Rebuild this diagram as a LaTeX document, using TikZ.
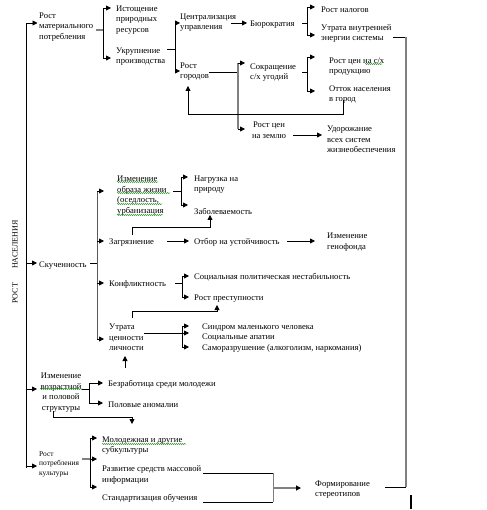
\documentclass[tikz,border=0pt]{standalone}
\usepackage{fontspec}
\setmainfont{Liberation Serif}
\usetikzlibrary{arrows.meta,decorations.pathmorphing}
\newcommand\fsz{\fontsize{8.6}{10.5}\selectfont}
\newcommand\fsm{\fontsize{7.4}{9.5}\selectfont}
\definecolor{lgr}{RGB}{128,128,128}
\definecolor{spell}{RGB}{60,160,60}
\tikzset{
  ln/.style={line width=0.8pt, black},
  gl/.style={line width=1.4pt, lgr},
  arr/.style={ln, -{Triangle[length=5pt,width=5pt]}},
  garr/.style={gl, -{Triangle[length=5pt,width=5pt,color=black]}},
  txt/.style={anchor=west, align=left, inner sep=0pt, font=\fsz, yshift=-1.5pt},
  ctxt/.style={anchor=center, align=center, inner sep=0pt, font=\fsz, yshift=-1.5pt},
  wavy/.style={spell, line width=0.5pt, decorate, decoration={snake, amplitude=0.6pt, segment length=2pt}},
}
\begin{document}
\begin{tikzpicture}[x=1pt,y=-1pt]
\useasboundingbox (0,0) rectangle (486,510);
% ---------- nodes ----------
\node[font=\fontsize{8}{9}\selectfont, rotate=90, inner sep=0pt] (lbl) at (15,262) {РОСТ\hspace{14pt}НАСЕЛЕНИЯ};
\node[txt] (rmp) at (39,25.5) {Рост\\материального\\потребления};
\node[txt] (ist) at (116,18.5) {Истощение\\природных\\ресурсов};
\node[txt] (ukr) at (116,55) {Укрупнение\\производства};
\node[txt] (cen) at (180,21) {Централизация\\управления};
\node[txt] (rg) at (180,70) {Рост\\городов};
\node[txt] (bur) at (250,23) {Бюрократия};
\node[txt] (rn) at (321,8) {Рост налогов};
\node[txt] (uv) at (321,32) {Утрата внутренней\\энергии системы};
\node[txt] (sok) at (250,71) {Сокращение\\с/х угодий};
\node[txt] (rcp) at (329,65) {Рост цен на с/х\\продукцию};
\node[txt] (ott) at (329,93) {Отток населения\\в город};
\node[ctxt] (rcz) at (269,128.5) {Рост цен\\на землю};
\node[txt] (udo) at (327,138) {Удорожание\\всех систем\\жизнеобеспечения};
\node[txt] (sku) at (39,264) {Скученность};
\node[txt] (izo) at (117,194) {Изменение\\образа жизни\\(оседлость,\\урбанизация};
\node[txt] (nag) at (194,183) {Нагрузка на\\природу};
\node[txt] (zab) at (194,210) {Заболеваемость};
\node[txt] (zag) at (109,241) {Загрязнение};
\node[txt] (otb) at (194,241) {Отбор на устойчивость};
\node[txt] (gen) at (327,240.5) {Изменение\\генофонда};
\node[txt] (kon) at (109,283) {Конфликтность};
\node[txt] (spn) at (194,276) {Социальная политическая нестабильность};
\node[txt] (rp) at (194,297) {Рост преступности};
\node[txt] (ucl) at (109,336) {Утрата\\ценности\\личности};
\node[txt] (smc) at (202,326) {Синдром маленького человека};
\node[txt] (sa) at (202,336) {Социальные апатии};
\node[txt] (sr) at (202,347) {Саморазрушение (алкоголизм, наркомания)};
\node[ctxt] (ivs) at (61,391) {Изменение\\возрастной\\и половой\\структуры};
\node[txt] (bez) at (108,383) {Безработица среди молодежи};
\node[txt] (pol) at (108,403) {Половые аномалии};
\node[txt, font=\fsm] (rpk) at (39,462.5) {Рост\\потребления\\культуры};
\node[txt] (mol) at (102,444) {Молодежная и другие\\субкультуры};
\node[txt] (razv) at (102,473.5) {Развитие средств массовой\\информации};
\node[txt] (std) at (102,497) {Стандартизация обучения};
\node[txt] (fst) at (315,488) {Формирование\\стереотипов};
% ---------- spelling marks ----------
\draw[wavy] (117,182) -- (158,182);
\draw[wavy] (117,193) -- (170,193);
\draw[wavy] (117,204) -- (162,204);
\draw[wavy] (117,215) -- (163,215);
\draw[wavy] (40,389) -- (83,389);
\draw[wavy] (102,444) -- (186,444);
\draw[wavy] (365,64) -- (382,64);
% ---------- trunk ----------
\coordinate (tT) at (26,23);
\coordinate (tB) at (26,468);
\draw[ln] (tT) -- (tB);
\draw[arr] (tT) -- ([xshift=-1.5pt]tT -| rmp.west);
\draw[arr] (26,263) -- (37,263);
\draw[arr] (26,389) -- (37,389);
\draw[arr] (26,466) -- (37,466);
% ---------- top block ----------
\draw[gl] (96,30) -- (103,30);
\draw[ln] (103,8) -- (103,58);
\draw[arr] (103,8) -- (111,8);
\draw[arr] (103,58) -- (111,58);
\draw[ln] (167,49) -- (175,49);
\draw[ln] (175,23) -- (175,71);
\draw[arr] (175,23) -- (180,23);
\draw[arr] (175,71) -- (180,71);
\draw[arr] (231,23) -- (247,23);
\draw[ln] (302,23) -- (307,23);
\draw[ln] (307,7) -- (307,35);
\draw[arr] (307,7) -- (315,7);
\draw[arr] (307,35) -- (315,35);
\draw[ln] (393,37) -- (406,37);
\draw[ln] (209,72) -- (238,72);
\draw[gl] (238,63) -- (238,129);
\draw[arr] (238,63) -- (245,63);
\draw[arr] (238,129) -- (245,129);
\draw[ln] (302,72) -- (307,72);
\draw[ln] (307,57) -- (307,91);
\draw[arr] (307,57) -- (315,57);
\draw[arr] (307,91) -- (315,91);
\draw[arr] (343,100) -- (343,114) -- (188,114) -- (188,86);
\draw[arr] (293,135) -- (322,135);
% ---------- middle block ----------
\draw[ln] (90,263) -- (97,263);
\draw[ln, lgr!70!black, line width=1pt] (97,191) -- (97,339);
\draw[arr] (97,191) -- (104,191);
\draw[arr] (97,241) -- (104,241);
\draw[arr] (97,283) -- (104,283);
\draw[arr] (97,339) -- (104,339);
\draw[ln] (173,191) -- (181,191);
\draw[ln] (181,177) -- (181,205);
\draw[arr] (181,177) -- (188,177);
\draw[arr] (181,205) -- (188,205);
\draw[arr] (132,235) -- (132,227) -- (210,227) -- (210,215);
\draw[arr] (167,241) -- (189,241);
\draw[arr] (287,241) -- (315,241);
\draw[ln] (175,283) -- (182,283);
\draw[ln] (182,276) -- (182,297);
\draw[arr] (182,276) -- (189,276);
\draw[arr] (182,297) -- (189,297);
\draw[arr] (132,318) -- (132,311) -- (217,311) -- (217,305);
\draw[ln] (144,333) -- (182,333);
\draw[ln] (182,326) -- (182,347);
\draw[arr] (182,326) -- (189,326);
\draw[arr] (182,333) -- (189,333);
\draw[arr] (182,347) -- (189,347);
\draw[black, line width=0.6pt, double, double distance=1.6pt] (322,326) -- (406,326);
\draw[arr] (125,368) -- (125,356);
% ---------- lower block ----------
\draw[ln] (82,389) -- (89,389);
\draw[ln] (89,383) -- (89,403);
\draw[arr] (89,383) -- (103,383);
\draw[arr] (89,403) -- (103,403);
\draw[arr] (53,411) -- (53,417) -- (132,417) -- (132,424);
\draw[gl] (82,459) -- (90,459);
\draw[ln] (90,438) -- (90,487);
\draw[arr] (90,438) -- (97,438);
\draw[arr] (90,459) -- (97,459);
\draw[arr] (90,487) -- (97,487);
\draw[ln] (203,473) -- (273,473);
\draw[ln] (203,502) -- (273,502);
\draw[gl, line width=1pt] (273,473) -- (273,502);
\draw[garr] (273,488) -- (301,488);
\draw[ln] (385,487) -- (406,487);
\draw[gl] (406,37) -- (406,487);
\draw[line width=1.6pt] (411,495) -- (411,509);
\end{tikzpicture}
\end{document}
